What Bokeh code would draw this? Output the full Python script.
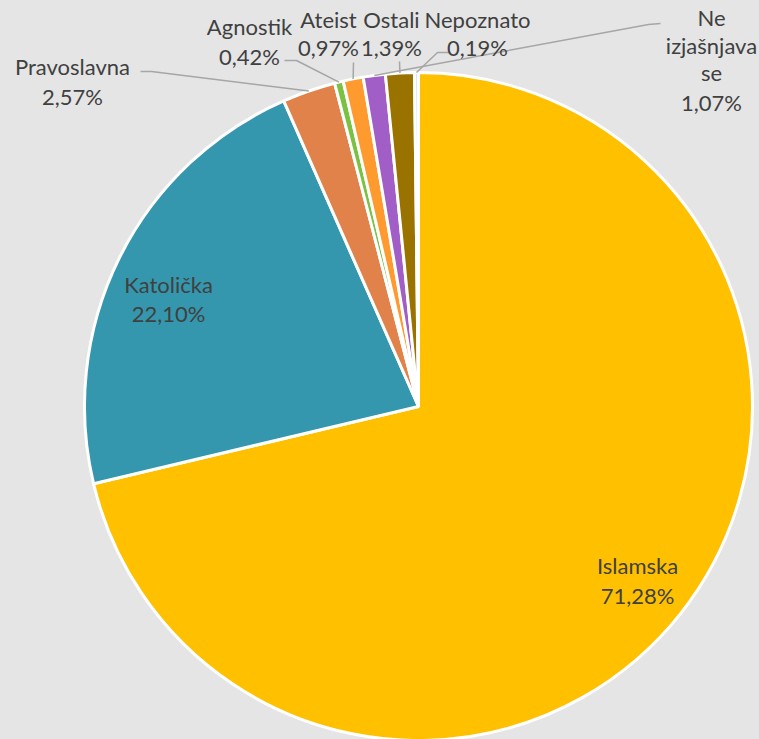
import math
from bokeh.plotting import figure
from bokeh.models import Range1d, ColumnDataSource
from bokeh.core.properties import value
from bokeh.embed import file_html
from bokeh.resources import INLINE

# ---- data ----
categories = ["Islamska", "Katolička", "Pravoslavna", "Agnostik", "Ateist",
              "Ne izjašnjava se", "Ostali", "Nepoznato"]
shares = [71.28, 22.10, 2.57, 0.42, 0.97, 1.07, 1.39, 0.19]
colors = ["#FFC000", "#3597AE", "#E0824A", "#7CC242", "#FF9A2E",
          "#A05EC6", "#9A7200", "#DCE6EE"]

# ---- layout (screen px of reference, y down) ----
W, H = 759, 739
CX, CY, R = 418, 406, 334
BG = "#E5E5E5"
TXT = "#404040"
FONT = "Lato"
FS = "22px"

def sy(y):  # screen y -> data y
    return 739 - y

total = sum(shares)
fr = [s / total for s in shares]
starts, ends, mids = [], [], []
cum = 0.0
for f in fr:
    a0 = math.pi / 2 - 2 * math.pi * cum
    a1 = math.pi / 2 - 2 * math.pi * (cum + f)
    starts.append(a0)
    ends.append(a1)
    mids.append((a0 + a1) / 2)
    cum += f

p = figure(width=W, height=H, output_backend="svg", toolbar_location=None,
           x_range=Range1d(0, W), y_range=Range1d(739 - H, 739),
           min_border=0, background_fill_color=BG, border_fill_color=BG)
p.axis.visible = False
p.grid.visible = False
p.outline_line_color = None

src = ColumnDataSource(dict(start=starts, end=ends, color=colors, cat=categories))
p.wedge(x=CX, y=sy(CY), radius=R, start_angle="start", end_angle="end",
        direction="clock", fill_color="color", line_color="white",
        line_width=3, source=src)

def pct(v):
    return f"{v:.2f}".replace(".", ",") + "%"

def slice_pt(i, rr=1.0):
    a = mids[i]
    return CX + R * rr * math.cos(a), sy(CY) + R * rr * math.sin(a)

# leader lines: (index, list of label-side screen points)
leaders = {
    2: [(140, 71), (151, 71)],
    3: [(284, 60), (296, 60)],
    4: [(353, 62)],
    5: [(660, 23), (648, 24)],
    6: [(399, 61)],
    7: [(450, 52), (437, 52)],
}
for i, pts in leaders.items():
    xs = [x for x, y in pts]
    ys = [sy(y) for x, y in pts]
    ex, ey = slice_pt(i, 1.0)
    xs.append(ex)
    ys.append(ey)
    p.line(xs, ys, line_color="#A6A6A6", line_width=1.5)

# label positions (screen px): list of text-line centres
label_pos = {
    0: (637, [565, 595]),
    1: (168, [284, 313]),
    2: (72, [66, 96]),
    3: (249, [26, 56]),
    4: (328, [19, 47]),
    5: (711, [17, 45, 72, 102]),
    6: (391, [19, 47]),
    7: (477, [19, 47]),
}
tx, ty, tt = [], [], []
for i, (x, ys) in label_pos.items():
    if i == 5:
        lines = ["Ne", "izjašnjava", "se"]
    else:
        lines = [categories[i]]
    lines = lines + [pct(shares[i])]
    for line, y in zip(lines, ys):
        tx.append(x)
        ty.append(sy(y))
        tt.append(line)

p.text(x=tx, y=ty, text=tt, text_align="center", text_baseline="middle",
       text_font=value(FONT), text_font_size=FS, text_color=TXT)

html = file_html(p, INLINE)
html = html.replace("<body>", f'<body style="background:{BG};margin:0;">', 1)
html = html.replace("<html", f'<html style="background:{BG};"', 1)
open("out.html", "w").write(html)
